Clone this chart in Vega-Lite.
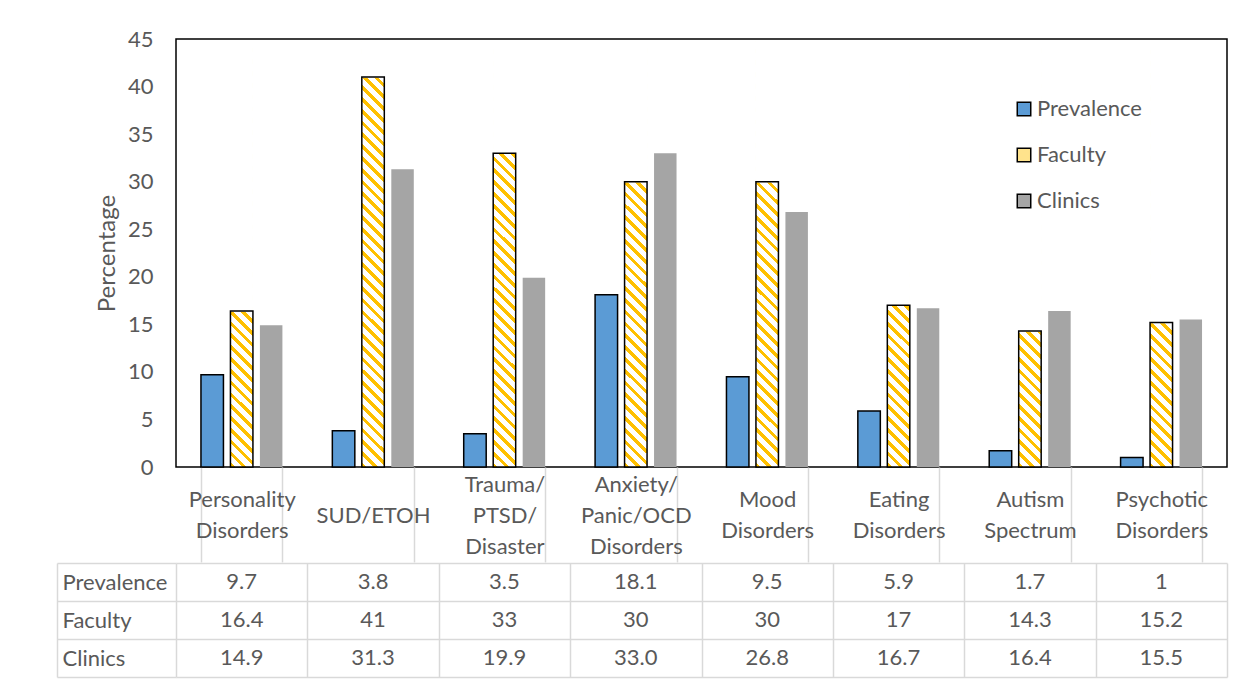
{
"$schema": "https://vega.github.io/schema/vega-lite/v6.json",
"background": "white",
"padding": {"left": 56, "top": 27, "right": 5, "bottom": 5},
"spacing": 96,
"bounds": "flush",
"config": {"font": "Lato", "axis": {"labelFont": "Lato", "titleFont": "Lato"}, "legend": {"labelFont": "Lato"}},
"datasets": {"d": [
{"cat": "Personality Disorders", "series": "Prevalence", "value": 9.7},
{"cat": "Personality Disorders", "series": "Faculty", "value": 16.4},
{"cat": "Personality Disorders", "series": "Clinics", "value": 14.9},
{"cat": "SUD/ETOH", "series": "Prevalence", "value": 3.8},
{"cat": "SUD/ETOH", "series": "Faculty", "value": 41},
{"cat": "SUD/ETOH", "series": "Clinics", "value": 31.3},
{"cat": "Trauma/ PTSD/ Disaster", "series": "Prevalence", "value": 3.5},
{"cat": "Trauma/ PTSD/ Disaster", "series": "Faculty", "value": 33},
{"cat": "Trauma/ PTSD/ Disaster", "series": "Clinics", "value": 19.9},
{"cat": "Anxiety/ Panic/OCD Disorders", "series": "Prevalence", "value": 18.1},
{"cat": "Anxiety/ Panic/OCD Disorders", "series": "Faculty", "value": 30},
{"cat": "Anxiety/ Panic/OCD Disorders", "series": "Clinics", "value": 33.0},
{"cat": "Mood Disorders", "series": "Prevalence", "value": 9.5},
{"cat": "Mood Disorders", "series": "Faculty", "value": 30},
{"cat": "Mood Disorders", "series": "Clinics", "value": 26.8},
{"cat": "Eating Disorders", "series": "Prevalence", "value": 5.9},
{"cat": "Eating Disorders", "series": "Faculty", "value": 17},
{"cat": "Eating Disorders", "series": "Clinics", "value": 16.7},
{"cat": "Autism Spectrum", "series": "Prevalence", "value": 1.7},
{"cat": "Autism Spectrum", "series": "Faculty", "value": 14.3},
{"cat": "Autism Spectrum", "series": "Clinics", "value": 16.4},
{"cat": "Psychotic Disorders", "series": "Prevalence", "value": 1},
{"cat": "Psychotic Disorders", "series": "Faculty", "value": 15.2},
{"cat": "Psychotic Disorders", "series": "Clinics", "value": 15.5}
]},
"resolve": {"scale": {"x": "independent", "y": "independent"}, "axis": {"x": "independent", "y": "independent"}, "legend": {"fill": "independent"}},
"vconcat": [
{
"width": 1051, "height": 428,
"view": {"stroke": "black", "strokeWidth": 1.5},
"data": {"name": "d"},
"encoding": {
 "x": {"field": "cat", "type": "nominal", "title": null,
  "scale": {"domain": ["Personality Disorders", "SUD/ETOH", "Trauma/ PTSD/ Disaster", "Anxiety/ Panic/OCD Disorders", "Mood Disorders", "Eating Disorders", "Autism Spectrum", "Psychotic Disorders"], "paddingInner": 0.38, "paddingOuter": 0.19},
  "axis": {"orient": "bottom", "domain": false, "grid": false, "ticks": true, "tickBand": "extent", "tickSize": 95, "tickColor": "#D9D9D9", "tickWidth": 1.5,
   "labelExpr": "length(split(datum.label, ' ')) == 3 ? [split(datum.label, ' ')[0], '\u200b', split(datum.label, ' ')[1], '\u200b', split(datum.label, ' ')[2]] : length(split(datum.label, ' ')) == 2 ? ['\u200b', split(datum.label, ' ')[0], '\u200b', split(datum.label, ' ')[1]] : ['\u200b', '\u200b', datum.label]",
   "labelFontSize": 22, "labelColor": "#595959", "labelPadding": -78, "labelBaseline": "middle", "labelAlign": "center", "labelLineHeight": 15.5, "labelAngle": 0, "labelOverlap": false, "labelLimit": 0}},
 "xOffset": {"field": "series", "type": "nominal", "scale": {"domain": ["Prevalence", "Faculty", "Clinics"], "paddingInner": 0.2373, "paddingOuter": 0}}
},
"layer": [
 {"transform": [{"filter": "datum.series === 'Faculty'"}],
  "mark": {"type": "bar", "strokeWidth": 0, "fill": {"gradient": "linear", "x1": 0, "y1": 1, "x2": 0.0553, "y2": -0.0498, "stops": [
{"offset":0,"color":"#FFC000"},{"offset":0.0105,"color":"#FFC000"},{"offset":0.0105,"color":"white"},{"offset":0.0263,"color":"white"},
{"offset":0.0263,"color":"#FFC000"},{"offset":0.0368,"color":"#FFC000"},{"offset":0.0368,"color":"white"},{"offset":0.0526,"color":"white"},
{"offset":0.0526,"color":"#FFC000"},{"offset":0.0632,"color":"#FFC000"},{"offset":0.0632,"color":"white"},{"offset":0.0789,"color":"white"},
{"offset":0.0789,"color":"#FFC000"},{"offset":0.0895,"color":"#FFC000"},{"offset":0.0895,"color":"white"},{"offset":0.1053,"color":"white"},
{"offset":0.1053,"color":"#FFC000"},{"offset":0.1158,"color":"#FFC000"},{"offset":0.1158,"color":"white"},{"offset":0.1316,"color":"white"},
{"offset":0.1316,"color":"#FFC000"},{"offset":0.1421,"color":"#FFC000"},{"offset":0.1421,"color":"white"},{"offset":0.1579,"color":"white"},
{"offset":0.1579,"color":"#FFC000"},{"offset":0.1684,"color":"#FFC000"},{"offset":0.1684,"color":"white"},{"offset":0.1842,"color":"white"},
{"offset":0.1842,"color":"#FFC000"},{"offset":0.1947,"color":"#FFC000"},{"offset":0.1947,"color":"white"},{"offset":0.2105,"color":"white"},
{"offset":0.2105,"color":"#FFC000"},{"offset":0.2211,"color":"#FFC000"},{"offset":0.2211,"color":"white"},{"offset":0.2368,"color":"white"},
{"offset":0.2368,"color":"#FFC000"},{"offset":0.2474,"color":"#FFC000"},{"offset":0.2474,"color":"white"},{"offset":0.2632,"color":"white"},
{"offset":0.2632,"color":"#FFC000"},{"offset":0.2737,"color":"#FFC000"},{"offset":0.2737,"color":"white"},{"offset":0.2895,"color":"white"},
{"offset":0.2895,"color":"#FFC000"},{"offset":0.3,"color":"#FFC000"},{"offset":0.3,"color":"white"},{"offset":0.3158,"color":"white"},
{"offset":0.3158,"color":"#FFC000"},{"offset":0.3263,"color":"#FFC000"},{"offset":0.3263,"color":"white"},{"offset":0.3421,"color":"white"},
{"offset":0.3421,"color":"#FFC000"},{"offset":0.3526,"color":"#FFC000"},{"offset":0.3526,"color":"white"},{"offset":0.3684,"color":"white"},
{"offset":0.3684,"color":"#FFC000"},{"offset":0.3789,"color":"#FFC000"},{"offset":0.3789,"color":"white"},{"offset":0.3947,"color":"white"},
{"offset":0.3947,"color":"#FFC000"},{"offset":0.4053,"color":"#FFC000"},{"offset":0.4053,"color":"white"},{"offset":0.4211,"color":"white"},
{"offset":0.4211,"color":"#FFC000"},{"offset":0.4316,"color":"#FFC000"},{"offset":0.4316,"color":"white"},{"offset":0.4474,"color":"white"},
{"offset":0.4474,"color":"#FFC000"},{"offset":0.4579,"color":"#FFC000"},{"offset":0.4579,"color":"white"},{"offset":0.4737,"color":"white"},
{"offset":0.4737,"color":"#FFC000"},{"offset":0.4842,"color":"#FFC000"},{"offset":0.4842,"color":"white"},{"offset":0.5,"color":"white"},
{"offset":0.5,"color":"#FFC000"},{"offset":0.5105,"color":"#FFC000"},{"offset":0.5105,"color":"white"},{"offset":0.5263,"color":"white"},
{"offset":0.5263,"color":"#FFC000"},{"offset":0.5368,"color":"#FFC000"},{"offset":0.5368,"color":"white"},{"offset":0.5526,"color":"white"},
{"offset":0.5526,"color":"#FFC000"},{"offset":0.5632,"color":"#FFC000"},{"offset":0.5632,"color":"white"},{"offset":0.5789,"color":"white"},
{"offset":0.5789,"color":"#FFC000"},{"offset":0.5895,"color":"#FFC000"},{"offset":0.5895,"color":"white"},{"offset":0.6053,"color":"white"},
{"offset":0.6053,"color":"#FFC000"},{"offset":0.6158,"color":"#FFC000"},{"offset":0.6158,"color":"white"},{"offset":0.6316,"color":"white"},
{"offset":0.6316,"color":"#FFC000"},{"offset":0.6421,"color":"#FFC000"},{"offset":0.6421,"color":"white"},{"offset":0.6579,"color":"white"},
{"offset":0.6579,"color":"#FFC000"},{"offset":0.6684,"color":"#FFC000"},{"offset":0.6684,"color":"white"},{"offset":0.6842,"color":"white"},
{"offset":0.6842,"color":"#FFC000"},{"offset":0.6947,"color":"#FFC000"},{"offset":0.6947,"color":"white"},{"offset":0.7105,"color":"white"},
{"offset":0.7105,"color":"#FFC000"},{"offset":0.7211,"color":"#FFC000"},{"offset":0.7211,"color":"white"},{"offset":0.7368,"color":"white"},
{"offset":0.7368,"color":"#FFC000"},{"offset":0.7474,"color":"#FFC000"},{"offset":0.7474,"color":"white"},{"offset":0.7632,"color":"white"},
{"offset":0.7632,"color":"#FFC000"},{"offset":0.7737,"color":"#FFC000"},{"offset":0.7737,"color":"white"},{"offset":0.7895,"color":"white"},
{"offset":0.7895,"color":"#FFC000"},{"offset":0.8,"color":"#FFC000"},{"offset":0.8,"color":"white"},{"offset":0.8158,"color":"white"},
{"offset":0.8158,"color":"#FFC000"},{"offset":0.8263,"color":"#FFC000"},{"offset":0.8263,"color":"white"},{"offset":0.8421,"color":"white"},
{"offset":0.8421,"color":"#FFC000"},{"offset":0.8526,"color":"#FFC000"},{"offset":0.8526,"color":"white"},{"offset":0.8684,"color":"white"},
{"offset":0.8684,"color":"#FFC000"},{"offset":0.8789,"color":"#FFC000"},{"offset":0.8789,"color":"white"},{"offset":0.8947,"color":"white"},
{"offset":0.8947,"color":"#FFC000"},{"offset":0.9053,"color":"#FFC000"},{"offset":0.9053,"color":"white"},{"offset":0.9211,"color":"white"},
{"offset":0.9211,"color":"#FFC000"},{"offset":0.9316,"color":"#FFC000"},{"offset":0.9316,"color":"white"},{"offset":0.9474,"color":"white"},
{"offset":0.9474,"color":"#FFC000"},{"offset":0.9579,"color":"#FFC000"},{"offset":0.9579,"color":"white"},{"offset":0.9737,"color":"white"},
{"offset":0.9737,"color":"#FFC000"},{"offset":0.9842,"color":"#FFC000"},{"offset":0.9842,"color":"white"},{"offset":1,"color":"white"}
  ]}},
  "encoding": {"y": {"datum": 44.8, "type": "quantitative", "title": "Percentage", "scale": {"domain": [0, 45], "nice": false},
    "axis": {"values": [0, 5, 10, 15, 20, 25, 30, 35, 40, 45], "ticks": false, "domain": false, "grid": false, "labelFontSize": 22, "labelColor": "#595959", "labelPadding": 23, "titleFontSize": 24, "titleFontWeight": "normal", "titleColor": "#595959", "titlePadding": 8}},
   "y2": {"datum": 0}}},
 {"transform": [{"filter": "datum.series === 'Faculty'"}],
  "mark": {"type": "bar", "fill": "white", "stroke": "white", "strokeWidth": 1.5},
  "encoding": {"y": {"field": "value", "type": "quantitative", "title": "Percentage", "scale": {"domain": [0, 45], "nice": false},
    "axis": {"values": [0, 5, 10, 15, 20, 25, 30, 35, 40, 45], "ticks": false, "domain": false, "grid": false, "labelFontSize": 22, "labelColor": "#595959", "labelPadding": 23, "titleFontSize": 24, "titleFontWeight": "normal", "titleColor": "#595959", "titlePadding": 8}},
   "y2": {"datum": 44.8}}},
 {"mark": {"type": "bar", "strokeWidth": 1.5},
  "encoding": {
   "y": {"field": "value", "type": "quantitative", "title": "Percentage", "scale": {"domain": [0, 45], "nice": false},
    "axis": {"values": [0, 5, 10, 15, 20, 25, 30, 35, 40, 45], "ticks": false, "domain": false, "grid": false, "labelFontSize": 22, "labelColor": "#595959", "labelPadding": 23, "titleFontSize": 24, "titleFontWeight": "normal", "titleColor": "#595959", "titlePadding": 8}},
   "fill": {"field": "series", "type": "nominal",
    "scale": {"domain": ["Prevalence", "Faculty", "Clinics"], "range": ["#5B9BD5", "#FFE38C", "#A5A5A5"]},
    "legend": {"orient": "none", "legendX": 837, "legendY": 59, "title": null, "padding": 0, "symbolType": "square", "symbolSize": 182, "symbolStrokeWidth": 1.5, "labelFontSize": 22, "labelColor": "#595959", "rowPadding": 24, "labelOffset": 2,
     "encode": {"symbols": {
      "stroke": {"condition": {"test": "datum.value === 'Clinics'", "value": "transparent"}, "value": "black"},
      "strokeWidth": {"value": 1.5}}}}},
   "fillOpacity": {"condition": {"test": "datum.series === 'Faculty'", "value": 0}, "value": 1},
   "stroke": {"condition": {"test": "datum.series === 'Clinics'", "value": "transparent"}, "value": "black"}
  }}
]
},
{
"width": 1051, "height": 114,
"view": {"stroke": null},
"data": {"name": "d"},
"transform": [{"calculate": "datum.series === 'Clinics' ? format(datum.value, '.1f') : '' + datum.value", "as": "label"}],
"mark": {"type": "text", "fontSize": 22, "color": "#595959", "font": "Lato"},
"encoding": {
 "x": {"field": "cat", "type": "nominal", "title": null,
  "scale": {"domain": ["Personality Disorders", "SUD/ETOH", "Trauma/ PTSD/ Disaster", "Anxiety/ Panic/OCD Disorders", "Mood Disorders", "Eating Disorders", "Autism Spectrum", "Psychotic Disorders"], "paddingInner": 0, "paddingOuter": 0},
  "axis": {"orient": "bottom", "labels": false, "ticks": false, "domain": false, "grid": true, "tickBand": "extent", "gridColor": "#D9D9D9", "gridWidth": 1.5}},
 "y": {"field": "series", "type": "nominal", "title": null,
  "scale": {"domain": ["Prevalence", "Faculty", "Clinics"], "paddingInner": 0, "paddingOuter": 0},
  "axis": {"orient": "left", "offset": 119, "domain": true, "domainColor": "#D9D9D9", "domainWidth": 1.5, "ticks": true, "tickSize": -119, "tickColor": "#D9D9D9", "tickWidth": 1.5, "tickBand": "extent", "grid": true, "gridColor": "#D9D9D9", "gridWidth": 1.5, "labelAlign": "left", "labelPadding": 114, "labelFontSize": 22, "labelColor": "#595959"}},
 "text": {"field": "label", "type": "nominal"}
}
}
]
}
